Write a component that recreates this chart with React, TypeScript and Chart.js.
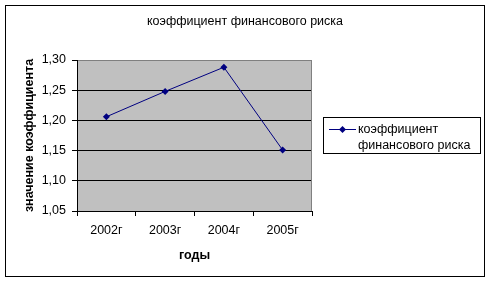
import React, { useEffect, useRef } from 'react';
import { Chart, registerables } from 'chart.js';

Chart.register(...registerables);

const categories = ['2002г', '2003г', '2004г', '2005г'];
const values = [1.206, 1.248, 1.288, 1.151];
const seriesLabel = 'коэффициент финансового риска';
const chartTitle = 'коэффициент финансового риска';
const yAxisTitle = 'значение коэффициента';
const xAxisTitle = 'годы';
const yMin = 1.05;
const yMax = 1.3;
const yStep = 0.05;

const FONT = "Arial, 'Liberation Sans', sans-serif";
const FS = 12.5;
const NAVY = '#000080';

function diamond(ctx: CanvasRenderingContext2D, x: number, y: number, r: number) {
  ctx.beginPath();
  ctx.moveTo(x, y - r);
  ctx.lineTo(x + r, y);
  ctx.lineTo(x, y + r);
  ctx.lineTo(x - r, y);
  ctx.closePath();
  ctx.fill();
}

const framePlugin = {
  id: 'frame',
  beforeDraw(chart: any) {
    const { ctx, chartArea: a, width, height } = chart;
    ctx.save();
    ctx.fillStyle = '#fff';
    ctx.fillRect(0, 0, width, height);
    ctx.fillStyle = '#C0C0C0';
    ctx.fillRect(a.left, a.top, a.right - a.left, a.bottom - a.top);
    ctx.strokeStyle = '#000';
    ctx.lineWidth = 1;
    ctx.strokeRect(5.5, 5.5, 479, 271);
    ctx.restore();
  },
  beforeDatasetsDraw(chart: any) {
    const { ctx, chartArea: a } = chart;
    ctx.save();
    ctx.strokeStyle = '#808080';
    ctx.lineWidth = 1;
    ctx.beginPath();
    ctx.moveTo(a.right - 0.5, a.top);
    ctx.lineTo(a.right - 0.5, a.bottom);
    ctx.stroke();
    ctx.restore();
  },
  afterDraw(chart: any) {
    const { ctx } = chart;
    const label: string = chart.data.datasets[0].label;
    const idx = label.indexOf(' ');
    const lines = [label.slice(0, idx), label.slice(idx + 1)];
    ctx.save();
    // title
    ctx.fillStyle = '#000';
    ctx.font = `${FS}px ${FONT}`;
    ctx.textAlign = 'center';
    ctx.textBaseline = 'middle';
    ctx.fillText(chartTitle, 245, 22);
    // legend
    ctx.strokeStyle = '#000';
    ctx.lineWidth = 1;
    ctx.strokeRect(323.5, 117.5, 157, 36);
    ctx.strokeStyle = NAVY;
    ctx.beginPath();
    ctx.moveTo(329, 129.5);
    ctx.lineTo(356, 129.5);
    ctx.stroke();
    ctx.fillStyle = NAVY;
    diamond(ctx, 342.5, 129.5, 3.5);
    ctx.fillStyle = '#000';
    ctx.textAlign = 'left';
    ctx.fillText(lines[0], 358, 129.5);
    ctx.fillText(lines[1], 358, 145.5);
    ctx.restore();
  },
};

export default function App() {
  const ref = useRef<HTMLCanvasElement>(null);
  useEffect(() => {
    if (!ref.current) return;
    const chart = new Chart(ref.current, {
      type: 'line',
      data: {
        labels: categories,
        datasets: [
          {
            label: seriesLabel,
            data: values,
            borderColor: NAVY,
            backgroundColor: NAVY,
            borderWidth: 1,
            pointStyle: 'rectRot',
            pointRadius: 3.5,
            pointBackgroundColor: NAVY,
            pointBorderColor: NAVY,
            pointBorderWidth: 0,
            tension: 0,
          },
        ],
      },
      options: {
        animation: false,
        responsive: false,
        devicePixelRatio: 1,
        layout: { padding: { left: 0, right: 179, top: 60, bottom: 15 } },
        plugins: {
          legend: { display: false },
          tooltip: { enabled: false },
          title: { display: false },
        },
        scales: {
          x: {
            type: 'category',
            offset: true,
            afterFit: (s: any) => {
              s.height = 56;
            },
            grid: {
              offset: true,
              drawOnChartArea: false,
              drawTicks: true,
              tickLength: 5,
              color: '#000',
            },
            border: { display: true, color: '#000' },
            ticks: {
              color: '#000',
              font: { family: FONT, size: FS },
              padding: 7,
              maxRotation: 0,
            },
            title: {
              display: true,
              text: xAxisTitle,
              color: '#000',
              font: { family: FONT, size: FS, weight: 'bold' },
              padding: { top: 0, bottom: 4 },
            },
          },
          y: {
            min: yMin,
            max: yMax,
            afterFit: (s: any) => {
              s.width = 77;
            },
            grid: {
              color: (c: any) => (c.tick && Math.abs(c.tick.value - yMax) < 1e-6 ? '#808080' : '#000'),
              tickColor: '#000',
              tickLength: 5,
              lineWidth: 1,
            },
            border: { display: true, color: '#000' },
            ticks: {
              stepSize: yStep,
              color: '#000',
              font: { family: FONT, size: FS },
              padding: 6,
              callback: (v: any) => Number(v).toFixed(2).replace('.', ','),
            },
            title: {
              display: true,
              text: yAxisTitle,
              color: '#000',
              font: { family: FONT, size: FS, weight: 'bold' },
              padding: { top: 22, bottom: 0 },
            },
          },
        },
      },
      plugins: [framePlugin],
    });
    return () => chart.destroy();
  }, []);
  return (
    <div style={{ position: 'absolute', left: 0, top: 0, width: 491, height: 282 }}>
      <canvas ref={ref} width={491} height={282} style={{ display: 'block', width: 491, height: 282 }} />
    </div>
  );
}
